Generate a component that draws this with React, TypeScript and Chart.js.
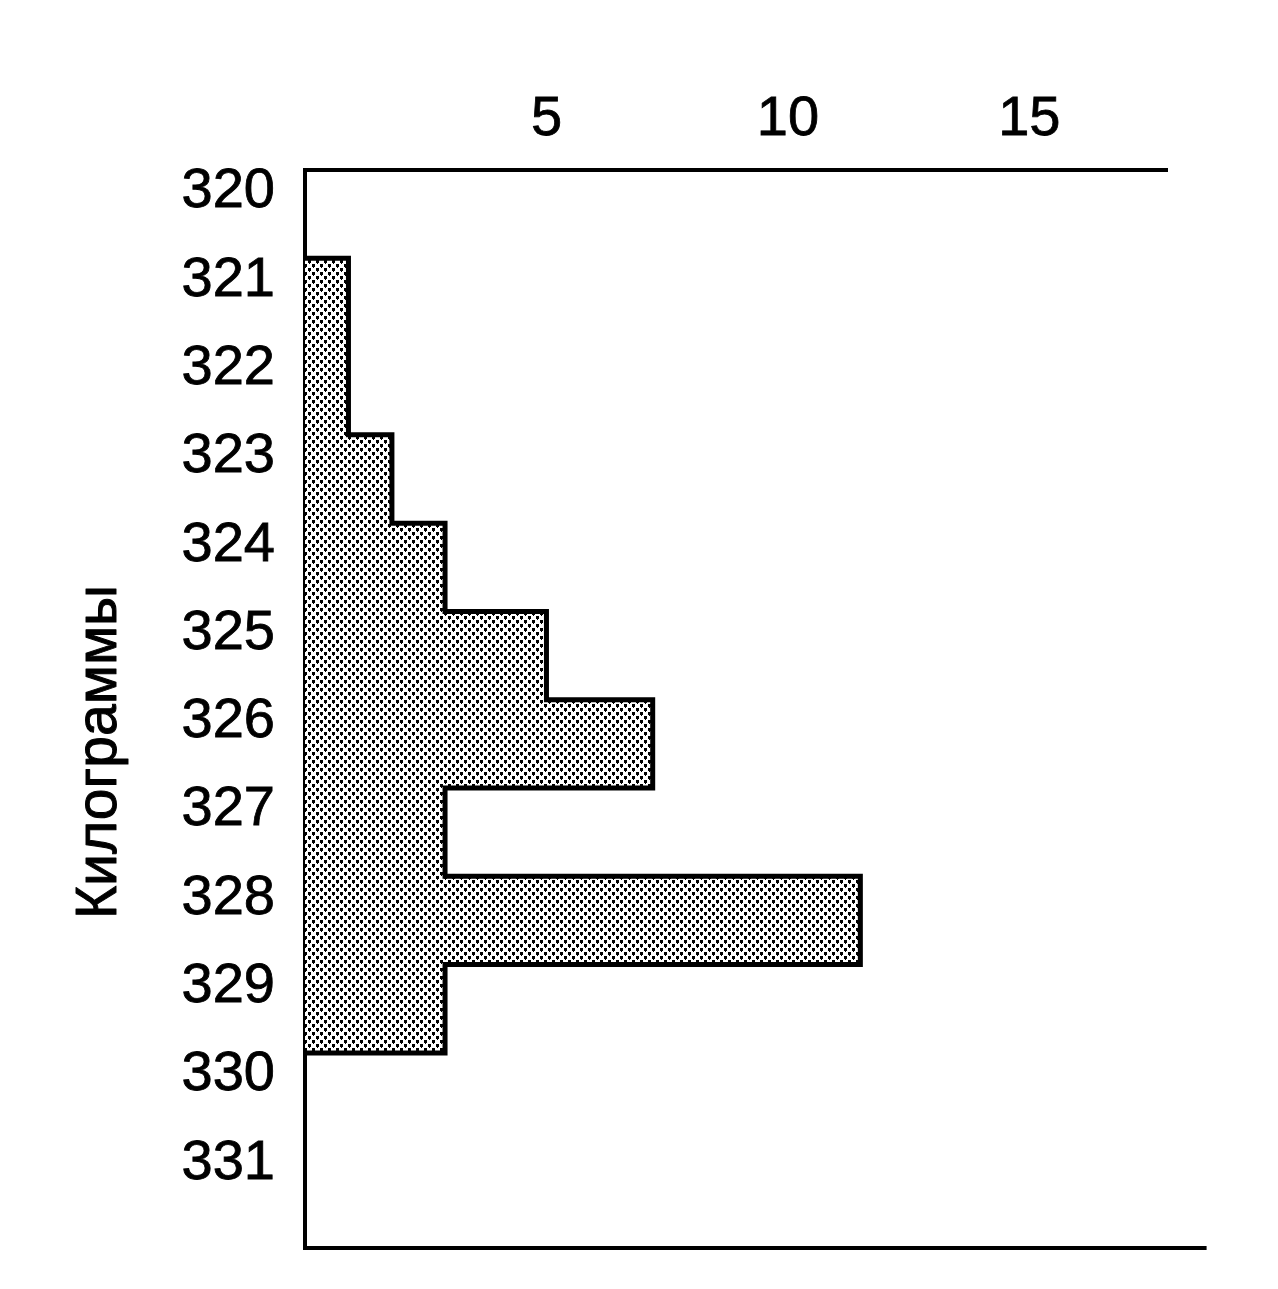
import React, { useEffect, useRef } from 'react';
import { Chart, registerables } from 'chart.js';

Chart.register(...registerables);

// ---- data ----
const binStarts = [321, 322, 323, 324, 325, 326, 327, 328, 329];
const counts = [0.9, 0.9, 1.8, 2.9, 5, 7.2, 2.9, 11.5, 2.9];
const xTickValues = [5, 10, 15];
const yTickValues = [320, 321, 322, 323, 324, 325, 326, 327, 328, 329, 330, 331];
const yAxisTitle = 'Килограммы';

// ---- axis ranges ----
const X_MIN = 0;
const X_MAX = 17.85;
const X_BOTTOM_LINE_END = 18.67;
const Y_MIN = 320;
const Y_MAX = 332.21;

const FONT = '"Liberation Sans", Arial, Helvetica, sans-serif';

function makePattern(): CanvasPattern | string {
  const tile = document.createElement('canvas');
  tile.width = 8;
  tile.height = 8;
  const c = tile.getContext('2d');
  if (!c) return '#bbbbbb';
  c.fillStyle = '#ffffff';
  c.fillRect(0, 0, 8, 8);
  c.fillStyle = '#000000';
  c.fillRect(0, 0, 3, 3);
  c.fillRect(4, 4, 3, 3);
  c.fillRect(1, 3, 1, 1);
  c.fillRect(5, 7, 1, 1);
  const p = c.createPattern(tile, 'repeat');
  return p || '#bbbbbb';
}

export default function App() {
  const ref = useRef<HTMLCanvasElement | null>(null);

  useEffect(() => {
    const canvas = ref.current;
    if (!canvas) return;

    const barData = binStarts.map((b, i) => ({ x: counts[i], y: b + 0.5 }));

    // step outline of the histogram, built from the same arrays
    const outline: { x: number; y: number }[] = [];
    let prev = 0;
    binStarts.forEach((b, i) => {
      outline.push({ x: prev, y: b });
      outline.push({ x: counts[i], y: b });
      prev = counts[i];
    });
    const lastEdge = binStarts[binStarts.length - 1] + 1;
    outline.push({ x: prev, y: lastEdge });
    outline.push({ x: 0, y: lastEdge });

    const extras = {
      id: 'extras',
      afterDraw(chart: any) {
        const { ctx, chartArea, scales } = chart;
        ctx.save();
        // bottom axis line (extends further than the top one)
        ctx.strokeStyle = '#000';
        ctx.lineWidth = 4;
        ctx.beginPath();
        ctx.moveTo(chartArea.left - 2, chartArea.bottom);
        ctx.lineTo(scales.x.getPixelForValue(X_BOTTOM_LINE_END), chartArea.bottom);
        ctx.stroke();
        // vertical axis title
        ctx.translate(chartArea.left - 205, (chartArea.top + chartArea.bottom) / 2 + 43);
        ctx.rotate(-Math.PI / 2);
        ctx.fillStyle = '#000';
        ctx.font = `57px ${FONT}`;
        ctx.textAlign = 'center';
        ctx.textBaseline = 'middle';
        ctx.lineWidth = 1;
        ctx.lineJoin = 'round';
        ctx.strokeText(yAxisTitle, 0, 0);
        ctx.fillText(yAxisTitle, 0, 0);
        ctx.restore();
      },
    };

    const tickFont = { family: FONT, size: 56, lineHeight: 1 };

    const chart = new Chart(canvas, {
      type: 'bar',
      data: {
        datasets: [
          {
            type: 'line',
            data: outline,
            borderColor: '#000',
            borderWidth: 5,
            pointRadius: 0,
            fill: false,
            tension: 0,
            borderJoinStyle: 'miter',
            clip: 5,
            order: 1,
          } as any,
          {
            type: 'bar',
            indexAxis: 'y',
            data: barData,
            backgroundColor: makePattern(),
            borderWidth: 0,
            barPercentage: 1,
            categoryPercentage: 1,
            order: 2,
          } as any,
        ],
      },
      options: {
        animation: false,
        responsive: false,
        maintainAspectRatio: false,
        layout: { padding: { left: 0, top: 0, right: 111, bottom: 41 } },
        plugins: {
          legend: { display: false },
          tooltip: { enabled: false },
        },
        scales: {
          x: {
            type: 'linear',
            position: 'top',
            offset: false,
            min: X_MIN,
            max: X_MAX,
            grid: { display: false, drawTicks: false, offset: false },
            border: { display: true, color: '#000', width: 4 },
            ticks: {
              color: '#000',
              font: tickFont,
              textStrokeColor: '#000',
              textStrokeWidth: 0.8,
              padding: 22,
              maxRotation: 0,
              autoSkip: false,
            },
            afterBuildTicks: (s: any) => {
              s.ticks = xTickValues.map((v) => ({ value: v }));
            },
            afterFit: (s: any) => {
              s.height = 170;
              s.paddingLeft = 0;
              s.paddingRight = 0;
            },
          },
          y: {
            type: 'linear',
            position: 'left',
            offset: false,
            reverse: true,
            min: Y_MIN,
            max: Y_MAX,
            grid: { display: false, drawTicks: false, offset: false },
            border: { display: true, color: '#000', width: 4 },
            ticks: {
              color: '#000',
              font: tickFont,
              textStrokeColor: '#000',
              textStrokeWidth: 0.8,
              padding: 30,
              labelOffset: 22,
              autoSkip: false,
            },
            afterBuildTicks: (s: any) => {
              s.ticks = yTickValues.map((v) => ({ value: v }));
            },
            afterFit: (s: any) => {
              s.width = 305;
              s.paddingTop = 0;
              s.paddingBottom = 0;
            },
          },
        },
      } as any,
      plugins: [extras],
    });

    return () => chart.destroy();
  }, []);

  return (
    <canvas
      ref={ref}
      width={1278}
      height={1289}
      style={{ position: 'fixed', left: 0, top: 0, width: 1278, height: 1289, background: '#fff' }}
    />
  );
}
